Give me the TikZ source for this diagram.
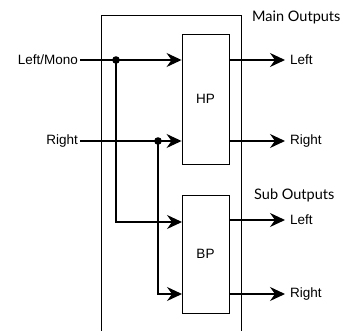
\documentclass[tikz,border=0pt]{standalone}
\usepackage{fontspec}
\setmainfont{Liberation Sans}
\newfontfamily\headfont{Lato}
\usetikzlibrary{arrows.meta}

\tikzset{
  filterbox/.style={draw, line width=0.9pt, minimum width=47pt, inner sep=0pt,
    font=\fontsize{13.5}{15}\selectfont},
  lbl/.style={font=\fontsize{13.5}{15}\selectfont, inner sep=2pt},
  head/.style={font=\headfont\fontsize{14.5}{16}\selectfont, inner sep=0pt},
  sig/.style={line width=1.4pt, -{Stealth[length=15pt,width=14pt,inset=5pt]}},
}

\begin{document}
\begin{tikzpicture}[x=1pt, y=-1pt]
  \useasboundingbox (0,0) rectangle (354,331);
  % enclosure, open at the bottom
  \draw[line width=0.9pt] (101,331) -- (101,15) -- (241,15) -- (241,331);
  \node[filterbox, minimum height=130pt] (HP) at (205.5,99) {HP};
  \node[filterbox, minimum height=118pt] (BP) at (205.5,254) {BP};
  % inputs
  \node[lbl, anchor=east] (inL) at (80,60) {Left/Mono};
  \node[lbl, anchor=east] (inR) at (80,141) {Right};
  \coordinate (jL) at (116,60);
  \coordinate (jR) at (158,141);
  \coordinate (bpL) at (182,222);
  \coordinate (bpR) at (182,294);
  \draw[sig] (inL.east) -- (inL.east -| HP.west);
  \draw[sig] (inR.east) -- (inR.east -| HP.west);
  \draw[sig] (jL) |- (bpL);
  \draw[sig] (jR) |- (bpR);
  \fill (jL) circle (3.8pt);
  \fill (jR) circle (3.8pt);
  % outputs
  \node[head, anchor=west] (mainout) at (252,17) {Main Outputs};
  \node[head, anchor=west] (subout) at (254,195) {Sub Outputs};
  \node[lbl, anchor=west, inner sep=5pt] (hpL) at (285,60) {Left};
  \node[lbl, anchor=west, inner sep=5pt] (hpR) at (285,141) {Right};
  \node[lbl, anchor=west, inner sep=5pt] (bpoL) at (285,220) {Left};
  \node[lbl, anchor=west, inner sep=5pt] (bpoR) at (285,294) {Right};
  \draw[sig] (hpL.west -| HP.east) -- (hpL.west);
  \draw[sig] (hpR.west -| HP.east) -- (hpR.west);
  \draw[sig] (bpoL.west -| BP.east) -- (bpoL.west);
  \draw[sig] (bpoR.west -| BP.east) -- (bpoR.west);
\end{tikzpicture}
\end{document}
